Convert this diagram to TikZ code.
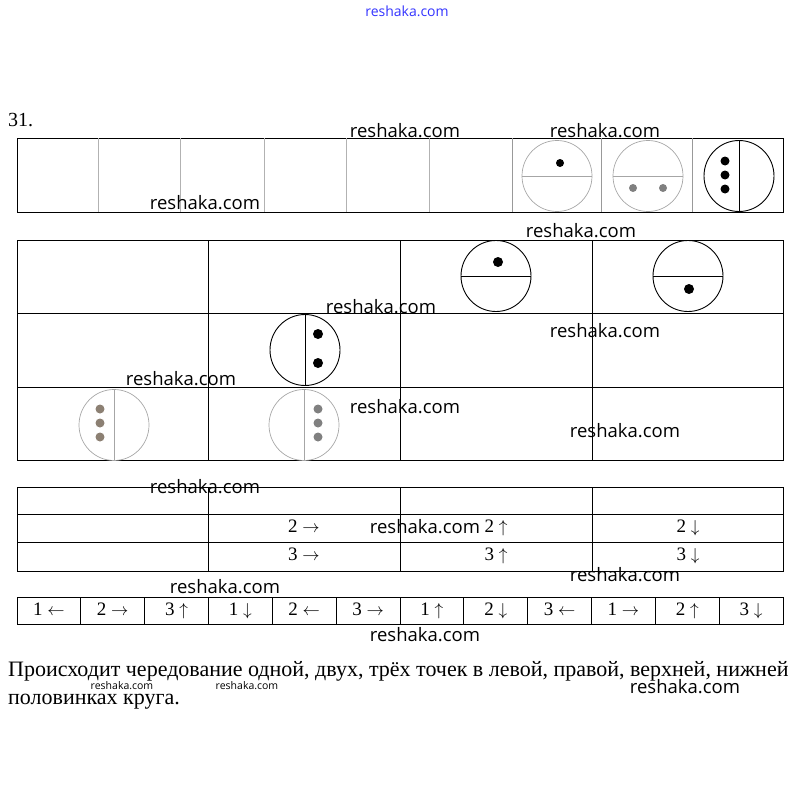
\documentclass[tikz,border=0pt]{standalone}
\usepackage{fontspec}
\setmainfont{Liberation Serif}
\newfontfamily\wmfont{Open Sans}
\usetikzlibrary{calc}

\begin{document}
\begin{tikzpicture}[x=1pt, y=-1pt,
        grid line/.style={line width=0.9pt},
        faint line/.style={line width=0.8pt, gray!60},
        circ/.style={line width=0.9pt},
        faint circ/.style={line width=0.7pt, gray!70},
        cell text/.style={font=\fontsize{19}{20}\selectfont, inner sep=0pt,
            text height=14pt, text depth=5pt},
        wm/.style={font=\wmfont\fontsize{18.5}{20}\selectfont, inner sep=0pt}]
        \useasboundingbox (0,0) rectangle (811,808);

        % Parameters
        \def\leftX{17}        % left edge of the tables
        \def\rightX{783}      % right edge of the tables
        \def\rx{35}           % x radius of a circle
        \def\ry{35.5}         % y radius of a circle

        % Circle cut into an upper and a lower half
        \newcommand{\splitH}[2][circ]{
            \draw[#1] (#2) ellipse [x radius=\rx pt, y radius=\ry pt];
            \draw[#1] ($(#2)+(-\rx,0)$) -- ($(#2)+(\rx,0)$);
        }
        % Circle cut into a left and a right half
        \newcommand{\splitV}[2][circ]{
            \draw[#1] (#2) ellipse [x radius=\rx pt, y radius=\ry pt];
            \draw[#1] ($(#2)+(0,-\ry)$) -- ($(#2)+(0,\ry)$);
        }

        \node[anchor=base west, font=\fontsize{20}{20}\selectfont, inner sep=0pt] (num) at (8,126) {31.};

        % Top strip
        \draw[grid line] (\leftX,138) rectangle (\rightX,212);
        \foreach \x in {98,180,264,346,429}
            \draw[faint line] (\x,138) -- (\x,212);
        \foreach \x in {512,601,692}
            \draw[grid line, gray!80] (\x,138) -- (\x,212);

        \coordinate (t1) at (557,176);
        \coordinate (t2) at (648,176);
        \coordinate (t3) at (739,176);
        \splitH[faint circ]{t1}
        \splitH[faint circ]{t2}
        \splitV{t3}
        \fill (560,163) circle [radius=4pt];
        \fill[gray] (633,188) circle [radius=4pt];
        \fill[gray] (663,188) circle [radius=4pt];
        \foreach \y in {161,175,189}
            \fill (725,\y) circle [radius=4.5pt];

        % Second table
        \draw[grid line] (\leftX,240) rectangle (\rightX,460);
        \foreach \y in {313,387}
            \draw[grid line] (\leftX,\y) -- (\rightX,\y);
        \foreach \x in {208,400,592}
            \draw[grid line] (\x,240) -- (\x,460);

        \coordinate (u3) at (496,276);
        \coordinate (u4) at (688,276);
        \coordinate (m2) at (305,350);
        \coordinate (b1) at (114,425);
        \coordinate (b2) at (304,425);
        \splitH{u3}
        \splitH{u4}
        \splitV{m2}
        \splitV[faint circ]{b1}
        \splitV[faint circ]{b2}
        \fill (498,262) circle [radius=5pt];
        \fill (689,289) circle [radius=5pt];
        \foreach \y in {334,363}
            \fill (318,\y) circle [radius=5pt];
        \foreach \y in {409,423,437} {
            \fill[gray!80!brown] (100,\y) circle [radius=4.5pt];
            \fill[gray] (318,\y) circle [radius=4.5pt];
        }

        % Third table
        \draw[grid line] (\leftX,487) rectangle (\rightX,571);
        \foreach \y in {514,542}
            \draw[grid line] (\leftX,\y) -- (\rightX,\y);
        \foreach \x in {208,400,592}
            \draw[grid line] (\x,487) -- (\x,571);
        \node[cell text] (r2) at (304,528) {2 $\rightarrow$};
        \node[cell text] (u2) at (496,528) {2 $\uparrow$};
        \node[cell text] (d2) at (688,528) {2 $\downarrow$};
        \node[cell text] (r3) at (304,556) {3 $\rightarrow$};
        \node[cell text] (u3t) at (496,556) {3 $\uparrow$};
        \node[cell text] (d3) at (688,556) {3 $\downarrow$};

        % Answer strip
        \draw[grid line] (\leftX,597) rectangle (\rightX,624);
        \foreach \i in {1,...,11}
            \draw[grid line] ({\leftX+63.83*\i},597) -- ({\leftX+63.83*\i},624);
        \foreach \lbl [count=\i] in {1 $\leftarrow$,2 $\rightarrow$,3 $\uparrow$,1 $\downarrow$,
                2 $\leftarrow$,3 $\rightarrow$,1 $\uparrow$,2 $\downarrow$,
                3 $\leftarrow$,1 $\rightarrow$,2 $\uparrow$,3 $\downarrow$}
            \node[cell text] (s\i) at ({\leftX+63.83*(\i-0.5)},611) {\lbl};

        % Answer text
        \node[anchor=base west, inner sep=0pt, font=\fontsize{22}{22}\selectfont] (ans1) at (8,676)
            {Происходит чередование одной, двух, трёх точек в левой, правой, верхней, нижней};
        \node[anchor=base west, inner sep=0pt, font=\fontsize{22}{22}\selectfont] (ans2) at (8,704)
            {половинках круга.};

        % Watermarks
        \node[wm, font=\wmfont\fontsize{14}{14}\selectfont, blue!80] (w0) at (407,11) {reshaka.com};
        \foreach \px/\py [count=\k] in {405/131, 605/131, 205/203, 581/231, 381/307, 605/331,
                181/379, 405/407, 625/431, 205/487, 425/527, 225/587, 625/575, 425/635, 685/687}
            \node[wm] (w\k) at (\px,\py) {reshaka.com};
        \node[wm, font=\wmfont\fontsize{10.5}{11}\selectfont] (w16) at (122,686) {reshaka.com};
        \node[wm, font=\wmfont\fontsize{10.5}{11}\selectfont] (w17) at (247,686) {reshaka.com};
\end{tikzpicture}
\end{document}
